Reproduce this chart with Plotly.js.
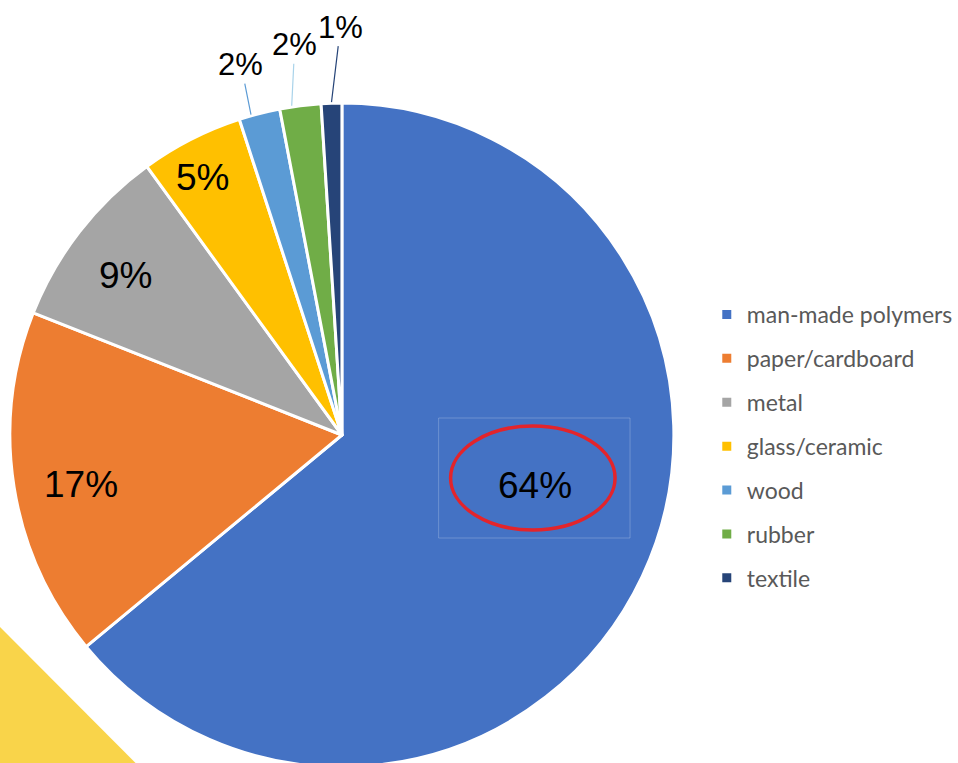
<!DOCTYPE html>
<html>
<head>
<meta charset="utf-8">
<script src="https://cdn.plot.ly/plotly-3.0.1.min.js"></script>
<style>
html,body{margin:0;padding:0;overflow:hidden;background:#fff;width:958px;height:763px;}
#chart{width:958px;height:900px;}
</style>
</head>
<body>
<div id="chart"></div>
<script>
const categories = ["man-made polymers","paper/cardboard","metal","glass/ceramic","wood","rubber","textile"];
const shares = [64, 17, 9, 5, 2, 2, 1];
const sliceLabels = ["64%","17%","9%","5%","2%","2%","1%"];
const colors = ["#4472C4","#ED7D31","#A5A5A5","#FFC000","#5B9BD5","#70AD47","#264478"];
const leaderColors = ["", "", "", "", "#5B9BD5", "#A9D3EA", "#264478"];

// label placement styles (radius fraction, angle nudge in degrees, outside offsets in px)
const labelRadius = [0.60, 0.80, 0.81, 0.88, 1, 1, 1];
const labelNudge = [-10.7, -1.8, -1.5, -1.5, -1.5, -1.5, 0];
const outsideOffset = [null, null, null, null, [-10, -50], [3, -61], [9, -75]];

const W = 958, H = 900;
const px = x => x / W;
const py = y => 1 - y / H;

// pie placement (pixels)
const domLeft = 10, domRight = 676, domTop = 102, domBottom = 768;
const cx = (domLeft + domRight) / 2, cy = (domTop + domBottom) / 2;
const R = (domRight - domLeft) / 2;

const data = [{
  type: "pie",
  labels: categories,
  values: shares,
  textinfo: "none",
  sort: false,
  direction: "clockwise",
  rotation: 0,
  marker: {colors: colors, line: {color: "#ffffff", width: 3}},
  domain: {x: [px(domLeft), px(domRight)], y: [py(domBottom), py(domTop)]},
  showlegend: false,
  hoverinfo: "label+percent"
}];

// legend entries built from the same category arrays
categories.forEach((c, i) => {
  data.push({
    type: "scatter", x: [null], y: [null], mode: "markers",
    name: c, legendgroup: "g" + i,
    marker: {symbol: "square", size: 9, color: colors[i]},
    showlegend: true, hoverinfo: "skip"
  });
});

// slice labels positioned from the data's angles
const total = shares.reduce((a, b) => a + b, 0);
let cum = 0;
const annotations = [];
shares.forEach((v, i) => {
  const midFrac = (cum + v / 2) / total;
  cum += v;
  const theta = (midFrac * 360 + labelNudge[i]) * Math.PI / 180;
  const rr = R * labelRadius[i];
  const x = cx + rr * Math.sin(theta);
  const y = cy - rr * Math.cos(theta);
  if (outsideOffset[i]) {
    annotations.push({
      xref: "paper", yref: "paper", x: px(x), y: py(y),
      text: sliceLabels[i], showarrow: true, arrowhead: 0, arrowwidth: 1.2,
      arrowcolor: leaderColors[i], standoff: 0,
      ax: outsideOffset[i][0], ay: outsideOffset[i][1],
      font: {family: "Liberation Sans, Arial, sans-serif", size: 31, color: "#000000"}
    });
  } else {
    annotations.push({
      xref: "paper", yref: "paper", x: px(x), y: py(y),
      xanchor: "center", yanchor: "middle",
      text: sliceLabels[i], showarrow: false,
      font: {family: "Liberation Sans, Arial, sans-serif", size: 37, color: "#000000"}
    });
  }
});

const layout = {
  width: W, height: H,
  margin: {l: 0, r: 0, t: 0, b: 0},
  paper_bgcolor: "#ffffff", plot_bgcolor: "#ffffff",
  xaxis: {visible: false, domain: [0.999, 1]},
  yaxis: {visible: false, domain: [0.999, 1]},
  legend: {
    x: px(709), y: py(293), xanchor: "left", yanchor: "top",
    font: {family: "Lato, Noto Sans, sans-serif", size: 23, color: "#595959"},
    tracegroupgap: 11, itemwidth: 30, bgcolor: "rgba(0,0,0,0)"
  },
  annotations: annotations,
  shapes: [
    {type: "path", xref: "paper", yref: "paper", layer: "below",
     path: `M 0 ${py(627)} L ${px(273)} ${py(900)} L 0 ${py(900)} Z`,
     fillcolor: "#F9D44A", line: {width: 0}},
    {type: "rect", xref: "paper", yref: "paper", layer: "above",
     x0: px(440), x1: px(632), y0: py(418), y1: py(538),
     line: {color: "rgba(255,255,255,0.22)", width: 1}},
    {type: "circle", xref: "paper", yref: "paper", layer: "above",
     x0: px(452), x1: px(617), y0: py(426), y1: py(530),
     line: {color: "#E3242B", width: 3.5}}
  ]
};

Plotly.newPlot("chart", data, layout, {displayModeBar: false, staticPlot: true});
</script>
</body>
</html>
